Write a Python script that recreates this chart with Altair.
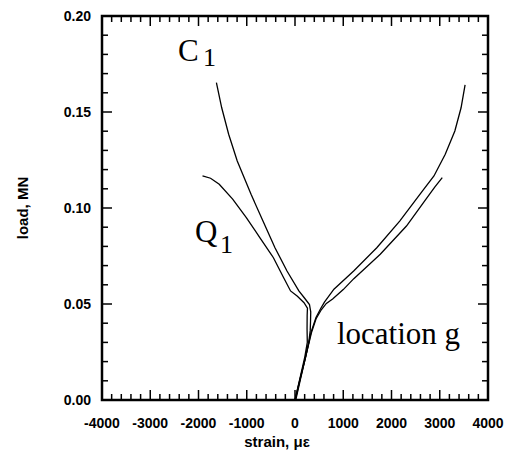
import altair as alt
import pandas as pd

# ---- data (strain in microstrain, load in MN) ----
c1_left_strain = [15, 115, 215, 285, 315, 322, 326, 300, 200, 80, -166, -415, -664, -911, -1197, -1375, -1519, -1629]
c1_left_load = [0.0, 0.011, 0.022, 0.030, 0.036, 0.041, 0.046, 0.0497, 0.0530, 0.0568, 0.0672, 0.0793, 0.0932, 0.1071, 0.1245, 0.1384, 0.1522, 0.1653]

q1_left_strain = [0, 100, 200, 255, 250, 252, 258, 187, 50, -92, -235, -447, -729, -1009, -1292, -1570, -1750, -1917]
q1_left_load = [0.0, 0.011, 0.022, 0.030, 0.037, 0.044, 0.0478, 0.0507, 0.0540, 0.0568, 0.0637, 0.0741, 0.0846, 0.0950, 0.1046, 0.1124, 0.1155, 0.1167]

c1_right_strain = [5, 108, 215, 335, 435, 530, 610, 807, 1216, 1695, 2170, 2643, 2880, 3114, 3313, 3442, 3525]
c1_right_load = [0.0, 0.011, 0.022, 0.0355, 0.043, 0.0475, 0.051, 0.0577, 0.0672, 0.0793, 0.0932, 0.1089, 0.1167, 0.1280, 0.1401, 0.1522, 0.1641]

q1_right_strain = [0, 100, 210, 340, 440, 545, 650, 780, 1000, 1219, 1767, 2310, 2715, 2900, 3052]
q1_right_load = [0.0, 0.0105, 0.0215, 0.035, 0.0425, 0.047, 0.0503, 0.0526, 0.0575, 0.0632, 0.0759, 0.0906, 0.1046, 0.1110, 0.1158]

series = {
    "C1 left": (c1_left_strain, c1_left_load),
    "Q1 left": (q1_left_strain, q1_left_load),
    "C1 right": (c1_right_strain, c1_right_load),
    "Q1 right": (q1_right_strain, q1_right_load),
}

x_major = [-4000, -3000, -2000, -1000, 0, 1000, 2000, 3000, 4000]
x_minor = [v for v in range(-4000, 4001, 200) if v % 1000 != 0]
y_major = [0.0, 0.05, 0.10, 0.15, 0.20]
y_minor = [round(v * 0.01, 2) for v in range(0, 21) if v % 5 != 0]
x_labels = [str(v) for v in x_major]
y_labels = ["%.2f" % v for v in y_major]
x_title = "strain, με"
y_title = "load, MN"

label_text = ["C", "1", "Q", "1", "location g"]
label_strain = [-2425, -1907, -2073, -1554, 870]
label_load = [0.1766, 0.1740, 0.0823, 0.0767, 0.0292]
label_size = [31, 26, 31, 26, 31]

W, H = 386, 384
MAJ, MIN = 10, 6
FONT = "Liberation Sans"

rows = []
for name, (xs, ys) in series.items():
    for i, (sx, ly) in enumerate(zip(xs, ys)):
        rows.append({"series": name, "idx": i, "strain": sx, "load": ly})
df = pd.DataFrame(rows)

labels = pd.DataFrame({"text": label_text, "strain": label_strain, "load": label_load, "fs": label_size})

xscale = alt.Scale(domain=[-4000, 4000], nice=False, zero=False)
yscale = alt.Scale(domain=[0, 0.2], nice=False, zero=False)

lines = alt.Chart(df).mark_line(color="black", strokeWidth=1.3).encode(
    x=alt.X("strain:Q", scale=xscale, axis=None),
    y=alt.Y("load:Q", scale=yscale, axis=None),
    detail="series:N",
    order="idx:Q",
)


def xticks(vals, length):
    d = pd.DataFrame({"v": vals})
    bottom = alt.Chart(d).mark_rule(color="black", strokeWidth=1.5).encode(
        x=alt.X("v:Q", scale=xscale, axis=None), y=alt.value(H), y2=alt.value(H - length))
    top = alt.Chart(d).mark_rule(color="black", strokeWidth=1.5).encode(
        x=alt.X("v:Q", scale=xscale, axis=None), y=alt.value(0), y2=alt.value(length))
    return bottom + top


def yticks(vals, length):
    d = pd.DataFrame({"v": vals})
    left = alt.Chart(d).mark_rule(color="black", strokeWidth=1.5).encode(
        y=alt.Y("v:Q", scale=yscale, axis=None), x=alt.value(0), x2=alt.value(length))
    right = alt.Chart(d).mark_rule(color="black", strokeWidth=1.5).encode(
        y=alt.Y("v:Q", scale=yscale, axis=None), x=alt.value(W), x2=alt.value(W - length))
    return left + right


xlab = alt.Chart(pd.DataFrame({"v": x_major, "lab": x_labels})).mark_text(
    font=FONT, fontWeight="bold", fontSize=14, align="center", baseline="top", color="black"
).encode(x=alt.X("v:Q", scale=xscale, axis=None), y=alt.value(H + 17), text="lab:N")

ylab = alt.Chart(pd.DataFrame({"v": y_major, "lab": y_labels})).mark_text(
    font=FONT, fontWeight="bold", fontSize=14, align="right", baseline="middle", color="black", dy=1
).encode(y=alt.Y("v:Q", scale=yscale, axis=None), x=alt.value(-11), text="lab:N")

xt = alt.Chart(pd.DataFrame({"t": [x_title]})).mark_text(
    font=FONT, fontWeight="bold", fontSize=15, align="center", baseline="alphabetic", color="black"
).encode(x=alt.value(175), y=alt.value(H + 47), text="t:N")

yt = alt.Chart(pd.DataFrame({"t": [y_title]})).mark_text(
    font=FONT, fontWeight="bold", fontSize=15, align="center", baseline="middle", color="black", angle=270
).encode(x=alt.value(-79), y=alt.value(H / 2), text="t:N")

text = alt.Chart(labels).mark_text(
    font="Liberation Serif", align="left", baseline="alphabetic", color="black"
).encode(
    x=alt.X("strain:Q", scale=xscale, axis=None),
    y=alt.Y("load:Q", scale=yscale, axis=None),
    text="text:N",
    size=alt.Size("fs:Q", scale=None, legend=None),
)

chart = alt.layer(
    lines, xticks(x_major, MAJ), xticks(x_minor, MIN), yticks(y_major, MAJ), yticks(y_minor, MIN),
    xlab, ylab, xt, yt, text
).properties(
    width=W, height=H, autosize=alt.AutoSizeParams(type="none"),
    padding={"left": 94, "top": 8, "right": 16, "bottom": 55},
    background="white",
).configure_view(stroke="black", strokeWidth=2.5)

chart.save("out.html", embed_options={"renderer": "svg", "actions": False})
